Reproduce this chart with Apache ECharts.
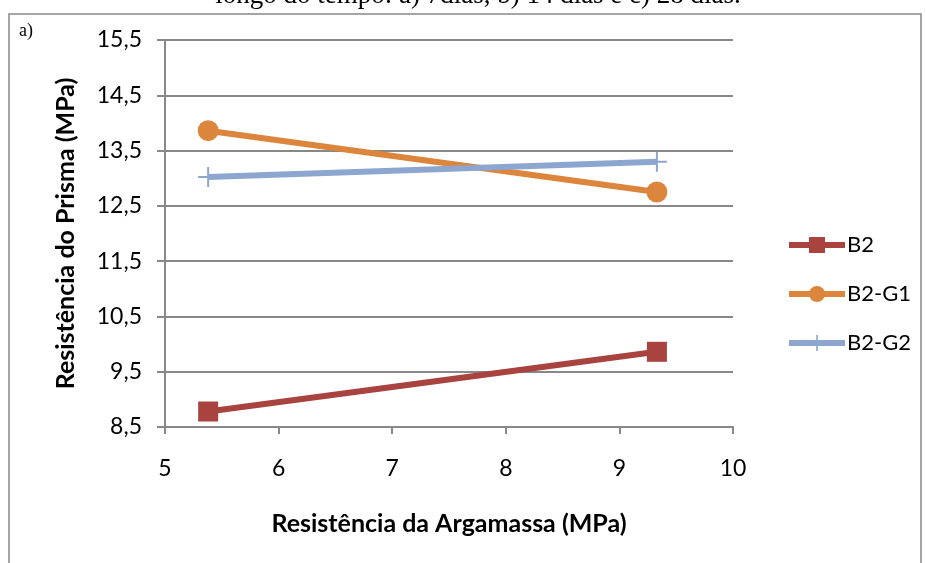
<!DOCTYPE html>
<html>
<head>
<meta charset="utf-8">
<script src="https://cdn.jsdelivr.net/npm/echarts@6/dist/echarts.min.js"></script>
<style>
  html, body { margin: 0; padding: 0; background: #fff; }
  #chart { width: 926px; height: 563px; }
</style>
</head>
<body>
<div id="chart"></div>
<script>
// dados
var argamassa = [5.38, 9.33];           // Resistência da Argamassa (MPa)
var serieB2   = [8.78, 9.86];
var serieB2G1 = [13.86, 12.75];
var serieB2G2 = [13.02, 13.30];
var nomes = ['B2', 'B2-G1', 'B2-G2'];
var cores = ['#A8433F', '#DC853D', '#8DA6D0'];

var fonte = 'Lato, "Open Sans", sans-serif';

function pares(ys) {
  var r = [];
  for (var i = 0; i < ys.length; i++) {
    r.push([argamassa[i], ys[i]]);
  }
  return r;
}

var cruz = 'path://M9,0h2v9h9v2h-9v9h-2v-9h-9v-2h9z';

var serie = function (nome, dados, cor, simbolo, tam) {
  return {
    name: nome,
    type: 'line',
    data: pares(dados),
    symbol: simbolo,
    symbolSize: tam,
    showSymbol: true,
    lineStyle: { color: cor, width: 6 },
    itemStyle: { color: cor, opacity: 1 },
    emphasis: { disabled: true },
    z: 3
  };
};

var option = {
  backgroundColor: '#fff',
  animation: false,
  textStyle: { fontFamily: fonte },
  grid: { left: 165, right: 193, top: 40, bottom: 136 },
  xAxis: {
    type: 'value',
    min: 5, max: 10, interval: 1,
    name: 'Resistência da Argamassa (MPa)',
    nameLocation: 'middle',
    nameGap: 84,
    nameTextStyle: { fontSize: 25, fontWeight: 'bold', color: '#000', fontFamily: fonte },
    axisLine: { show: true, lineStyle: { color: '#888', width: 2 } },
    axisTick: { show: true, inside: false, length: 7, lineStyle: { color: '#888', width: 2 } },
    axisLabel: { fontSize: 23, color: '#000', margin: 30, fontFamily: fonte },
    splitLine: { show: false }
  },
  yAxis: {
    type: 'value',
    min: 8.5, max: 15.5, interval: 1,
    name: 'Resistência do Prisma (MPa)',
    nameLocation: 'middle',
    nameGap: 87,
    nameRotate: 90,
    nameTextStyle: { fontSize: 25, fontWeight: 'bold', color: '#000', fontFamily: fonte },
    axisLine: { show: true, lineStyle: { color: '#888', width: 2 } },
    axisTick: { show: true, inside: false, length: 8, lineStyle: { color: '#888', width: 2 } },
    axisLabel: {
      fontSize: 23, color: '#000', margin: 23, fontFamily: fonte,
      formatter: function (v) { return v.toFixed(1).replace('.', ','); }
    },
    splitLine: { show: true, lineStyle: { color: '#888', width: 2 } }
  },
  legend: {
    orient: 'vertical',
    left: 781,
    top: 229,
    itemWidth: 56,
    itemHeight: 20,
    itemGap: 27,
    data: nomes,
    lineStyle: { width: 6 },
    textStyle: { fontSize: 22, color: '#000', fontFamily: fonte, padding: [0, 0, 0, -3] }
  },
  graphic: [
    {
      type: 'rect',
      shape: { x: 9, y: 14, width: 912, height: 560 },
      style: { fill: 'none', stroke: '#888', lineWidth: 1.5 },
      z: -1
    },
    {
      type: 'text',
      style: {
        x: 478,
        y: 9,
        text: 'longo do tempo: a) 7dias, b) 14 dias e c) 28 dias.',
        textAlign: 'center',
        textVerticalAlign: 'bottom',
        fontFamily: '"Liberation Serif", serif',
        fontSize: 27,
        fill: '#000'
      }
    },
    {
      type: 'text',
      left: 19,
      top: 22,
      style: {
        text: 'a)',
        fontFamily: '"Liberation Serif", serif',
        fontSize: 18,
        fill: '#000'
      }
    }
  ],
  series: [
    serie(nomes[0], serieB2, cores[0], 'rect', 20),
    serie(nomes[1], serieB2G1, cores[1], 'circle', 21),
    serie(nomes[2], serieB2G2, cores[2], cruz, 20)
  ]
};

var myChart = echarts.init(document.getElementById('chart'));
myChart.setOption(option);
</script>
</body>
</html>
